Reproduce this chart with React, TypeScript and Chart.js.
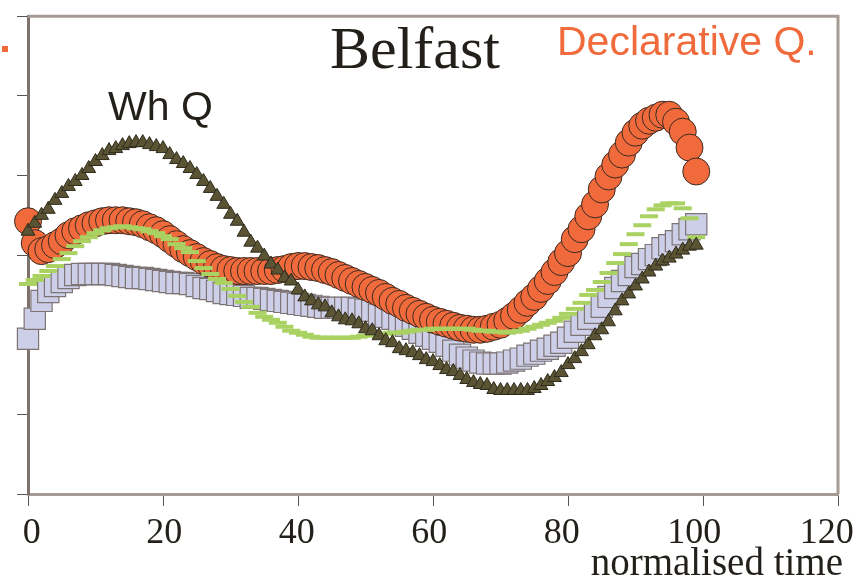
import React, { useEffect, useRef } from 'react';
import { Chart, registerables } from 'chart.js';

Chart.register(...registerables);

// x axis ticks (normalised time)
const X_TICKS = [0, 20, 40, 60, 80, 100, 120];

// Wh Q (triangles)
const WHQ = [
  264, 272, 280, 286, 295, 302, 309, 314, 320, 327,
  334, 340, 345, 347, 350, 352, 353, 353, 351, 349,
  347, 341, 336, 332, 327, 321, 314, 307, 299, 291,
  281, 274, 263, 253, 247, 239, 231, 225, 217, 214,
  205, 198, 194, 190, 188, 182, 178, 175, 174, 171,
  166, 164, 159, 154, 152, 146, 144, 142, 139, 135,
  133, 129, 125, 123, 119, 115, 112, 110, 109, 105,
  104, 104, 104, 104, 104, 106, 109, 113, 117, 122,
  130, 136, 143, 150, 159, 165, 173, 184, 194, 201,
  209, 216, 223, 229, 234, 237, 241, 245, 249, 250,
];

// second series (lavender squares)
const SQUARES = [
  156, 176, 194, 203, 209, 213, 217, 220, 221, 221,
  221, 221, 221, 220, 219, 218, 217, 217, 216, 215,
  214, 213, 212, 212, 211, 209, 207, 206, 204, 202,
  201, 200, 199, 197, 197, 196, 195, 194, 193, 192,
  191, 190, 189, 188, 187, 187, 187, 187, 187, 186,
  185, 184, 180, 178, 176, 172, 169, 166, 162, 159,
  156, 153, 149, 144, 140, 137, 134, 132, 131, 131,
  131, 132, 134, 136, 139, 141, 144, 146, 149, 152,
  157, 163, 170, 176, 182, 188, 198, 207, 214, 220,
  228, 231, 236, 240, 247, 250, 254, 261, 266, 271,
];

// Declarative Q. (orange circles)
const DECLARATIVE = [
  274, 252, 244, 246, 250, 254, 260, 264, 267, 270,
  272, 274, 275, 275, 275, 274, 273, 271, 268, 265,
  261, 256, 251, 246, 242, 238, 234, 231, 228, 226,
  225, 224, 224, 224, 224, 224, 224, 225, 226, 228,
  229, 229, 228, 227, 225, 223, 220, 217, 214, 211,
  208, 205, 202, 198, 194, 191, 187, 184, 181, 178,
  175, 173, 171, 169, 167, 166, 165, 165, 166, 168,
  170, 174, 179, 185, 192, 198, 206, 214, 223, 233,
  242, 256, 266, 279, 291, 306, 319, 331, 341, 353,
  363, 370, 375, 378, 381, 381, 374, 364, 348, 324,
];

// fourth series (green dashes)
const GREEN = [
  211, 215, 219, 224, 229, 236, 242, 249, 254, 258,
  262, 265, 267, 268, 269, 268, 267, 266, 264, 262,
  259, 256, 251, 247, 243, 234, 227, 221, 216, 212,
  206, 199, 193, 188, 182, 178, 175, 172, 168, 164,
  162, 160, 158, 157, 157, 157, 157, 157, 157, 158,
  159, 160, 161, 161, 162, 162, 163, 164, 165, 165,
  166, 166, 166, 166, 166, 166, 165, 164, 164, 163,
  163, 162, 163, 164, 166, 168, 170, 172, 174, 177,
  181, 186, 192, 200, 205, 213, 222, 232, 241, 251,
  261, 270, 279, 286, 290, 292, 292, 287, 277, 258,
];

const TIME = WHQ.map((_, i) => i);

const toPoints = (vals: number[]) => vals.map((y, i) => ({ x: TIME[i], y }));

const decor = {
  id: 'decor',
  beforeDatasetsDraw(chart: any) {
    const { ctx, chartArea: a } = chart;
    ctx.save();
    ctx.strokeStyle = '#a59a94';
    ctx.lineWidth = 3;
    ctx.beginPath();
    ctx.moveTo(a.left, a.top);
    ctx.lineTo(a.right, a.top);
    ctx.lineTo(a.right, a.bottom);
    ctx.stroke();
    ctx.restore();
  },
  afterDraw(chart: any) {
    const { ctx, chartArea: a } = chart;
    const xs = chart.scales.x;
    ctx.save();
    ctx.textBaseline = 'alphabetic';
    // x tick labels (slightly condensed, as in the original figure)
    ctx.fillStyle = '#231f1a';
    ctx.font = '36px "Liberation Serif", serif';
    ctx.textAlign = 'center';
    X_TICKS.forEach((v) => {
      const px = xs.getPixelForValue(v);
      const lx = a.left + 3.7 + (px - a.left) * 0.9815;
      ctx.fillText(String(v), lx, 543);
    });
    // title
    ctx.font = '60px "Liberation Serif", serif';
    ctx.fillText('Belfast', 415, 68);
    // Wh Q label
    ctx.font = '41px "Liberation Sans", Arial, sans-serif';
    ctx.textAlign = 'left';
    ctx.fillText('Wh Q', 108, 120);
    // Declarative label
    ctx.fillStyle = '#f06a3b';
    ctx.fillText('Declarative Q.', 557, 55);
    // x axis title
    ctx.fillStyle = '#231f1a';
    ctx.font = '39px "Liberation Serif", serif';
    ctx.textAlign = 'right';
    ctx.fillText('normalised time', 843, 575);
    // small orange marker fragment
    ctx.fillStyle = '#f06a3b';
    ctx.fillRect(2, 46, 6, 6);
    ctx.restore();
  },
};

export default function App() {
  const ref = useRef<HTMLCanvasElement>(null);
  useEffect(() => {
    if (!ref.current) return;
    const chart = new Chart(ref.current, {
      type: 'scatter',
      data: {
        datasets: [
          {
            label: 'Wh Q',
            data: toPoints(WHQ),
            showLine: false,
            pointStyle: 'triangle',
            pointRadius: 8,
            backgroundColor: '#5a5434',
            borderColor: '#2f2b1c',
            borderWidth: 1,
            clip: false,
          },
          {
            label: 'green',
            data: toPoints(GREEN),
            showLine: false,
            pointStyle: 'line',
            pointRadius: 9,
            backgroundColor: '#a9d262',
            borderColor: '#a9d262',
            borderWidth: 4,
            clip: false,
          },
          {
            label: 'Declarative Q.',
            data: toPoints(DECLARATIVE),
            showLine: false,
            pointStyle: 'circle',
            pointRadius: 13.5,
            backgroundColor: '#f06a3b',
            borderColor: '#3a2a22',
            borderWidth: 1,
            clip: false,
          },
          {
            label: 'squares',
            data: toPoints(SQUARES),
            showLine: false,
            pointStyle: 'rect',
            pointRadius: 15,
            backgroundColor: '#cdcfe8',
            borderColor: '#7e7474',
            borderWidth: 1.2,
            clip: false,
          },
        ],
      },
      options: {
        animation: false,
        responsive: false,
        events: [],
        layout: { padding: { top: 13, right: 22, left: 0, bottom: 0 } },
        plugins: {
          legend: { display: false },
          tooltip: { enabled: false },
          title: { display: false },
        },
        scales: {
          x: {
            type: 'linear',
            min: 0,
            max: 120,
            afterBuildTicks: (s: any) => {
              s.ticks = X_TICKS.map((v) => ({ value: v }));
            },
            afterFit: (s: any) => {
              s.height = 88;
              s.paddingLeft = 0;
              s.paddingRight = 0;
            },
            ticks: { display: false },
            grid: {
              display: true,
              drawOnChartArea: false,
              drawTicks: true,
              tickLength: 12,
              tickColor: '#555',
              tickWidth: 1,
            },
            border: { display: true, color: '#a59a94', width: 3 },
          },
          y: {
            type: 'linear',
            min: 0,
            max: 480,
            ticks: { display: false, stepSize: 80 },
            afterFit: (s: any) => {
              s.width = 28;
              s.paddingTop = 0;
              s.paddingBottom = 0;
            },
            grid: {
              display: true,
              drawOnChartArea: false,
              drawTicks: true,
              tickLength: 11,
              tickColor: '#555',
              tickWidth: 1,
            },
            border: { display: true, color: '#7d726c', width: 3 },
          },
        },
      },
      plugins: [decor],
    });
    return () => chart.destroy();
  }, []);
  return (
    <div style={{ position: 'fixed', left: 0, top: 0, width: 860, height: 582, background: '#fff' }}>
      <canvas ref={ref} width={860} height={582} style={{ display: 'block' }} />
    </div>
  );
}
